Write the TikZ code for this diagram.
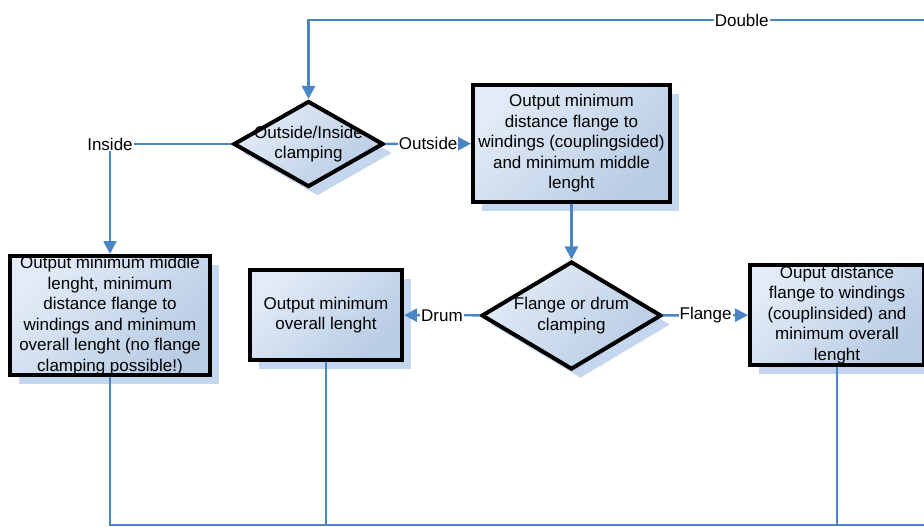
\documentclass[tikz,border=0pt]{standalone}
\usepackage{fontspec}
\setmainfont{Liberation Sans}
\usetikzlibrary{shapes.geometric,arrows.meta,shadows}
\definecolor{lineblue}{RGB}{74,134,198}
\definecolor{shd}{RGB}{196,215,238}
\definecolor{flight}{RGB}{226,235,247}
\definecolor{fdark}{RGB}{184,204,228}
\begin{document}
\begin{tikzpicture}[x=1pt,y=1pt,
  every node/.style={font=\fontsize{17}{20.5}\selectfont},
  shp/.style={draw=black, line width=4pt, top color=flight, bottom color=fdark, shading angle=45,
    drop shadow={shadow xshift=9pt,shadow yshift=-9pt,opacity=1,fill=shd}, inner sep=0pt, align=center},
  box/.style={shp, rectangle},
  dia/.style={shp, diamond},
  txt/.style={align=center, inner sep=0pt},
  wire/.style={draw=lineblue, line width=2.4pt},
  arr/.style={wire, -{Triangle[length=13pt,width=13pt]}},
  lbl/.style={fill=white, inner sep=1pt}]
\useasboundingbox (0,0) rectangle (924,-527);

% shapes
\node[dia, minimum width=150pt, minimum height=86pt] (d1) at (308.5,-144) {};
\node[txt] (d1t) at (d1) {Outside/Inside\\clamping};

\node[box, minimum width=197pt, minimum height=117pt] (A) at (571.5,-143.5)
  {Output minimum\\distance flange to\\windings (couplingsided)\\and minimum middle\\lenght};

\node[box, minimum width=200pt, minimum height=119pt] (B) at (110,-315.5)
  {Output minimum middle\\lenght, minimum\\distance flange to\\windings and minimum\\overall lenght (no flange\\clamping possible!)};

\node[box, minimum width=152pt, minimum height=90pt] (C) at (326,-315)
  {Output minimum\\overall lenght};

\node[dia, minimum width=180pt, minimum height=108pt] (d2) at (571.5,-315.5) {};
\node[txt] (d2t) at (d2) {Flange or drum\\clamping};

\node[box, minimum width=174pt, minimum height=100pt] (D) at (837,-315)
  {Ouput distance\\flange to windings\\(couplinsided) and\\minimum overall\\lenght};

% free ends
\coordinate (dstart) at (940,-20);
\coordinate (bend) at (940,-525);

% connectors
\draw[arr] (dstart) -| node[lbl,pos=0.157]{Double} (d1);
\draw[arr] (d1) -- node[lbl]{Outside} (A);
\draw[arr] (d1) -| node[lbl,pos=0.5]{Inside} (B);
\draw[arr] (A) -- (d2);
\draw[arr] (d2) -- node[lbl]{Drum} (C);
\draw[arr] (d2) -- node[lbl]{Flange} (D);
\draw[wire] (B) |- (bend);
\draw[wire] (C) -- (C |- bend);
\draw[wire] (D) -- (D |- bend);
\end{tikzpicture}
\end{document}
